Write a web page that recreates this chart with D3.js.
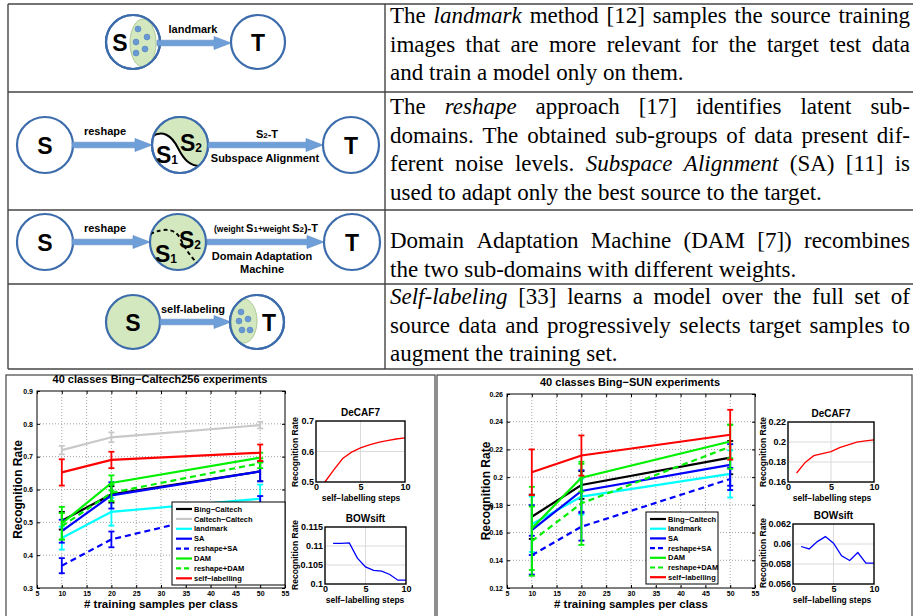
<!DOCTYPE html>
<html>
<head>
<meta charset="utf-8">
<script src="https://cdn.jsdelivr.net/npm/d3@7"></script>
<style>
body{margin:0;background:#fff;}
text{font-family:"Liberation Sans",Arial,sans-serif;}
</style>
</head>
<body>
<svg id="fig" width="913" height="616"></svg>
<script>
// ---------- data ----------
var samplesPerClass = [10, 20, 50];
var steps = [1, 2, 3, 4, 5, 6, 7, 8, 9, 10];
var xTicksMain = [5, 10, 15, 20, 25, 30, 35, 40, 45, 50, 55];

var caltechNames = ['Bing\u2212Caltech', 'Caltech\u2212Caltech', 'landmark', 'SA', 'reshape+SA', 'DAM', 'reshape+DAM', 'self\u2212labelling'];
var caltechMean = [
  [0.505, 0.585, 0.655],
  [0.720, 0.759, 0.796],
  [0.452, 0.532, 0.572],
  [0.473, 0.582, 0.655],
  [0.368, 0.448, 0.555],
  [0.497, 0.620, 0.697],
  [0.488, 0.590, 0.680],
  [0.652, 0.690, 0.712]
];
var caltechErr = [
  [0.027, 0.025, 0.030],
  [0.013, 0.015, 0.010],
  [0.035, 0.042, 0.043],
  [0.035, 0.040, 0.030],
  [0.023, 0.024, 0.025],
  [0.050, 0.023, 0.015],
  [0.040, 0.025, 0.015],
  [0.040, 0.025, 0.025]
];
var caltechYTicks = [0.3, 0.4, 0.5, 0.6, 0.7, 0.8, 0.9];

var sunNames = ['Bing\u2212Caltech', 'landmark', 'SA', 'reshape+SA', 'DAM', 'reshape+DAM', 'self\u2212labelling'];
var sunMean = [
  [0.1714, 0.1943, 0.2141],
  [0.1660, 0.1860, 0.2023],
  [0.1618, 0.1900, 0.2088],
  [0.1437, 0.1642, 0.1987],
  [0.1630, 0.1996, 0.2257],
  [0.1538, 0.1811, 0.2220],
  [0.2035, 0.2156, 0.2306]
];
var sunErr = [
  [0.016, 0.010, 0.012],
  [0.020, 0.013, 0.017],
  [0.018, 0.015, 0.015],
  [0.014, 0.010, 0.008],
  [0.030, 0.010, 0.012],
  [0.025, 0.030, 0.016],
  [0.0165, 0.0145, 0.018]
];
var sunYTicks = [0.12, 0.14, 0.16, 0.18, 0.2, 0.22, 0.24, 0.26];

var caltechDecaf = [0.500, 0.540, 0.577, 0.598, 0.612, 0.622, 0.630, 0.636, 0.641, 0.645];
var caltechBow = [0.1107, 0.1107, 0.1108, 0.1068, 0.1045, 0.1036, 0.1034, 0.1025, 0.1010, 0.1010];
var sunDecaf = [0.1690, 0.1796, 0.1863, 0.1883, 0.1903, 0.1944, 0.1971, 0.1998, 0.2011, 0.2021];
var sunBow = [0.05975, 0.05951, 0.06024, 0.06074, 0.06008, 0.05882, 0.05835, 0.05915, 0.05809, 0.05809];

var seriesColor = {
  'Bing\u2212Caltech': '#000000', 'Caltech\u2212Caltech': '#c8c8c8', 'landmark': '#00ffff',
  'SA': '#0000ff', 'reshape+SA': '#0000ff', 'DAM': '#00f000', 'reshape+DAM': '#00f000', 'self\u2212labelling': '#ff0000'
};
var seriesDashed = {'reshape+SA': true, 'reshape+DAM': true};

var paragraphs = [
  {y: 23, lines: ['The *landmark* method [12] samples the source training', 'images that are more relevant for the target test data', 'and train a model only on them.']},
  {y: 114, lines: ['The *reshape* approach [17] identifies latent sub-', 'domains. The obtained sub-groups of data present dif-', 'ferent noise levels. *Subspace* *Alignment* (SA) [11] is', 'used to adapt only the best source to the target.']},
  {y: 248, lines: ['Domain Adaptation Machine (DAM [7]) recombines', 'the two sub-domains with different weights.']},
  {y: 304, lines: ['*Self-labeling* [33] learns a model over the full set of', 'source data and progressively selects target samples to', 'augment the training set.']}
];

var svg = d3.select('#fig');

// ---------- table ----------
var tb = {top: 4, left: 8, mid: 385, right: 913, rows: [92, 210, 284, 369]};
var tg = svg.append('g').attr('stroke', '#444').attr('stroke-width', 1.4);
tg.append('line').attr('x1', tb.left).attr('x2', tb.right).attr('y1', tb.top).attr('y2', tb.top);
tb.rows.forEach(function(r){
  tg.append('line').attr('x1', tb.left).attr('x2', tb.right).attr('y1', r).attr('y2', r);
});
tg.append('line').attr('x1', tb.left).attr('x2', tb.left).attr('y1', tb.top).attr('y2', tb.rows[3]);
tg.append('line').attr('x1', tb.mid).attr('x2', tb.mid).attr('y1', tb.top).attr('y2', tb.rows[3]);

var textLeft = 390, textRight = 910, lineH = 28.6;
paragraphs.forEach(function(p){
  p.lines.forEach(function(line, li){
    var words = line.split(' ').map(function(w){
      var it = w.charAt(0) == '*';
      return {t: it ? w.slice(1, -1) : w, it: it};
    });
    var g = svg.append('g');
    words.forEach(function(w){
      w.el = g.append('text').attr('y', p.y + li * lineH)
        .style('font-family', '"Liberation Serif","Times New Roman",serif').style('font-size', '23px')
        .style('font-style', w.it ? 'italic' : 'normal').text(w.t);
      w.w = w.el.node().getComputedTextLength();
    });
    var total = d3.sum(words, function(d){ return d.w; });
    var last = li == p.lines.length - 1;
    var gap = last ? 5.8 : (textRight - textLeft - total) / (words.length - 1);
    var x = textLeft;
    words.forEach(function(w){ w.el.attr('x', x); x += w.w + gap; });
  });
});

// ---------- diagrams ----------
var ringColor = '#3c6cab', arrowColor = '#6f9fd8', greenFill = '#d3e8bf', dotColor = '#6a98d2';
var dg = svg.append('g');

function ring(cx, cy, r, fill){
  return dg.append('circle').attr('cx', cx).attr('cy', cy).attr('r', r)
    .attr('fill', fill || '#fff').attr('stroke', ringColor).attr('stroke-width', 2.2);
}
function arrow(x1, x2, y){
  var hl = 17, hh = 6.5;
  dg.append('path')
    .attr('d', 'M' + x1 + ',' + (y - 2.8) + 'L' + (x2 - hl) + ',' + (y - 2.8) + 'L' + (x2 - hl) + ',' + (y - hh) +
      'L' + x2 + ',' + y + 'L' + (x2 - hl) + ',' + (y + hh) + 'L' + (x2 - hl) + ',' + (y + 2.8) + 'L' + x1 + ',' + (y + 2.8) + 'Z')
    .attr('fill', arrowColor).attr('stroke', '#5c8ac4').attr('stroke-width', 0.6);
}
function label(x, y, t, size, anchor){
  return dg.append('text').attr('x', x).attr('y', y).attr('text-anchor', anchor || 'middle')
    .style('font-weight', 'bold').style('font-size', (size || 11) + 'px').text(t);
}
function bigLetter(x, y, t, sub){
  var tx = dg.append('text').attr('x', x).attr('y', y).attr('text-anchor', 'middle').attr('dy', '0.36em')
    .style('font-weight', 'bold').style('font-size', '23px').text(t);
  if(sub) tx.append('tspan').style('font-size', '12px').attr('dy', '0.1em').text(sub);
  return tx;
}
function dots(pts){
  pts.forEach(function(p){
    dg.append('circle').attr('cx', p[0]).attr('cy', p[1]).attr('r', 3)
      .attr('fill', dotColor).attr('stroke', '#4d7fbf').attr('stroke-width', 0.5);
  });
}
function clipCircle(id, cx, cy, r){
  svg.append('clipPath').attr('id', id).append('circle').attr('cx', cx).attr('cy', cy).attr('r', r);
}

// row 1: landmark
ring(133, 42, 27);
clipCircle('c1', 133, 42, 27);
dg.append('ellipse').attr('cx', 143).attr('cy', 43).attr('rx', 13).attr('ry', 24)
  .attr('fill', greenFill).attr('stroke', '#9fbf86').attr('stroke-width', 0.8).attr('clip-path', 'url(#c1)');
ring(133, 42, 27).attr('fill', 'none');
dots([[138, 29], [147, 37], [136, 42], [145, 49], [136, 53]]);
bigLetter(120, 43, 'S');
arrow(157, 231, 43);
label(193, 33, 'landmark');
ring(258, 42, 27);
bigLetter(258, 43, 'T');

// row 2: reshape + SA
ring(45, 145, 28);
bigLetter(45, 146, 'S');
arrow(72, 152, 145);
label(105, 135, 'reshape');
ring(180, 145, 28);
clipCircle('c2', 180, 145, 28);
dg.append('path').attr('d', 'M150,138 C162,128 172,136 178,148 C184,160 190,166 200,166 L215,166 L215,110 L145,110 Z')
  .attr('fill', greenFill).attr('clip-path', 'url(#c2)');
dg.append('path').attr('d', 'M150,138 C162,128 172,136 178,148 C184,160 190,166 200,166')
  .attr('fill', 'none').attr('stroke', '#000').attr('stroke-width', 2).attr('clip-path', 'url(#c2)');
ring(180, 145, 28).attr('fill', 'none');
bigLetter(167, 155, 'S', '1');
bigLetter(191, 143, 'S', '2');
arrow(208, 323, 145);
var l2 = label(267, 138, 'S', 11);
l2.append('tspan').style('font-size', '8px').text('2');
l2.append('tspan').text('-T');
label(265, 162, 'Subspace Alignment');
ring(351, 145, 28);
bigLetter(351, 146, 'T');

// row 3: reshape + DAM
ring(45, 242, 28);
bigLetter(45, 243, 'S');
arrow(72, 150, 242);
label(105, 232, 'reshape');
ring(178, 242, 28, greenFill);
clipCircle('c3', 178, 242, 28);
dg.append('path').attr('d', 'M150,234 Q172,224 180,238 Q187,253 198,264')
  .attr('fill', 'none').attr('stroke', '#000').attr('stroke-width', 2).attr('stroke-dasharray', '4,3')
  .attr('clip-path', 'url(#c3)');
bigLetter(166, 254, 'S', '1');
bigLetter(190, 240, 'S', '2');
arrow(207, 324, 242);
var l3 = label(266, 232, '(weight ', 8.5);
l3.append('tspan').style('font-size', '11px').text('S');
l3.append('tspan').style('font-size', '8px').text('1');
l3.append('tspan').text('+weight ');
l3.append('tspan').style('font-size', '11px').text('S');
l3.append('tspan').style('font-size', '8px').text('2');
l3.append('tspan').style('font-size', '11px').text(')-T');
label(262, 260, 'Domain Adaptation');
label(262, 273, 'Machine');
ring(352, 242, 28);
bigLetter(352, 243, 'T');

// row 4: self-labeling
ring(133, 322, 27, greenFill);
bigLetter(133, 323, 'S');
arrow(160, 231, 322);
label(193, 313, 'self-labeling');
ring(257, 322, 27);
clipCircle('c4', 257, 322, 27);
dg.append('ellipse').attr('cx', 244).attr('cy', 321).attr('rx', 13).attr('ry', 22)
  .attr('fill', greenFill).attr('stroke', '#9fbf86').attr('stroke-width', 0.8).attr('clip-path', 'url(#c4)');
ring(257, 322, 27).attr('fill', 'none');
dots([[241, 312], [248, 319], [239, 321], [242, 330], [250, 330]]);
bigLetter(269, 323, 'T');

// ---------- bottom panels ----------
svg.append('rect').attr('x', 6).attr('y', 375).attr('width', 429).attr('height', 250)
  .attr('fill', 'none').attr('stroke', '#444').attr('stroke-width', 1.2);
svg.append('rect').attr('x', 437).attr('y', 375).attr('width', 475).attr('height', 250)
  .attr('fill', 'none').attr('stroke', '#444').attr('stroke-width', 1.2);

function mainChart(cfg){
  var x = d3.scaleLinear().domain([5, 55]).range([cfg.left, cfg.right]);
  var y = d3.scaleLinear().domain(d3.extent(cfg.yTicks)).range([cfg.bottom, cfg.top]);
  var g = svg.append('g');

  // dotted grid
  g.selectAll('.gx').data(xTicksMain.slice(1, -1)).enter().append('line')
    .attr('x1', x).attr('x2', x).attr('y1', cfg.top).attr('y2', cfg.bottom)
    .attr('stroke', '#8a8a8a').attr('stroke-width', 0.8).attr('stroke-dasharray', '1,2');
  g.selectAll('.gy').data(cfg.yTicks.slice(1, -1)).enter().append('line')
    .attr('y1', y).attr('y2', y).attr('x1', cfg.left).attr('x2', cfg.right)
    .attr('stroke', '#8a8a8a').attr('stroke-width', 0.8).attr('stroke-dasharray', '1,2');

  // axes
  var ax = g.append('g').attr('transform', 'translate(0,' + cfg.bottom + ')')
    .call(d3.axisBottom(x).tickValues(xTicksMain).tickSize(-3).tickPadding(3).tickFormat(d3.format('d')));
  var ay = g.append('g').attr('transform', 'translate(' + cfg.left + ',0)')
    .call(d3.axisLeft(y).tickValues(cfg.yTicks).tickSize(-3).tickPadding(4).tickFormat(function(d){ return String(+d.toFixed(3)); }));
  var axt = g.append('g').attr('transform', 'translate(0,' + cfg.top + ')')
    .call(d3.axisTop(x).tickValues(xTicksMain).tickSize(-3).tickFormat(''));
  var ayr = g.append('g').attr('transform', 'translate(' + cfg.right + ',0)')
    .call(d3.axisRight(y).tickValues(cfg.yTicks).tickSize(-3).tickFormat(''));
  [ax, ay, axt, ayr].forEach(function(a){
    a.select('.domain').remove();
    a.selectAll('line').attr('stroke', '#000');
    a.selectAll('text').style('font-family', '"Liberation Sans",Arial,sans-serif').style('font-size', '7px').style('font-weight', 'bold').attr('fill', '#000');
  });

  // series
  cfg.names.forEach(function(name, i){
    var pts = samplesPerClass.map(function(s, j){ return {x: s, m: cfg.mean[i][j], e: cfg.err[i][j]}; });
    var col = seriesColor[name];
    var sg = g.append('g').attr('stroke', col).attr('fill', 'none');
    sg.append('path').datum(pts)
      .attr('d', d3.line().x(function(d){ return x(d.x); }).y(function(d){ return y(d.m); }))
      .attr('stroke-width', 2.2).attr('stroke-dasharray', seriesDashed[name] ? '6,4' : null);
    pts.forEach(function(d){
      var xx = x(d.x), y1 = y(d.m - d.e), y2 = y(d.m + d.e);
      sg.append('line').attr('x1', xx).attr('x2', xx).attr('y1', y1).attr('y2', y2).attr('stroke-width', 1.8);
      sg.append('line').attr('x1', xx - 3).attr('x2', xx + 3).attr('y1', y1).attr('y2', y1).attr('stroke-width', 1.8);
      sg.append('line').attr('x1', xx - 3).attr('x2', xx + 3).attr('y1', y2).attr('y2', y2).attr('stroke-width', 1.8);
    });
  });

  // box
  g.append('rect').attr('x', cfg.left).attr('y', cfg.top).attr('width', cfg.right - cfg.left).attr('height', cfg.bottom - cfg.top)
    .attr('fill', 'none').attr('stroke', '#000').attr('stroke-width', 1);

  // legend
  var lg = cfg.legend;
  g.append('rect').attr('x', lg.x).attr('y', lg.y).attr('width', lg.w).attr('height', lg.h)
    .attr('fill', '#fff').attr('stroke', '#000').attr('stroke-width', 1);
  cfg.names.forEach(function(name, i){
    var yy = lg.y + 7 + i * lg.step;
    g.append('line').attr('x1', lg.x + 4).attr('x2', lg.x + 20).attr('y1', yy).attr('y2', yy)
      .attr('stroke', seriesColor[name]).attr('stroke-width', 2.2).attr('stroke-dasharray', seriesDashed[name] ? '5,3' : null);
    g.append('text').attr('x', lg.x + 22).attr('y', yy).attr('dy', '0.35em')
      .style('font-size', '7.5px').style('font-weight', 'bold').text(name);
  });

  // texts
  g.append('text').attr('x', cfg.titleX).attr('y', cfg.top - 8).attr('text-anchor', 'middle')
    .style('font-size', '11px').style('font-weight', 'bold').text(cfg.title);
  g.append('text').attr('x', (cfg.left + cfg.right) / 2).attr('y', 608).attr('text-anchor', 'middle')
    .style('font-size', '11.5px').style('font-weight', 'bold').text('# training samples per class');
  g.append('text').attr('transform', 'translate(' + cfg.ylabelX + ',' + (cfg.top + cfg.bottom) / 2 + ') rotate(-90)')
    .attr('text-anchor', 'middle').style('font-size', '12px').style('font-weight', 'bold').text('Recognition Rate');
}

function smallChart(cfg){
  var x = d3.scaleLinear().domain([0, 10]).range([cfg.left, cfg.right]);
  var y = d3.scaleLinear().domain(d3.extent(cfg.yTicks)).range([cfg.bottom, cfg.top]);
  var g = svg.append('g');
  g.append('line').attr('x1', x(5)).attr('x2', x(5)).attr('y1', cfg.top).attr('y2', cfg.bottom)
    .attr('stroke', '#dadada').attr('stroke-width', 1);
  g.selectAll('.gy').data(cfg.yTicks.slice(1, -1)).enter().append('line')
    .attr('y1', y).attr('y2', y).attr('x1', cfg.left).attr('x2', cfg.right)
    .attr('stroke', '#dadada').attr('stroke-width', 1);
  g.append('path').datum(cfg.values)
    .attr('d', d3.line().x(function(d, i){ return x(steps[i]); }).y(function(d){ return y(d); }))
    .attr('fill', 'none').attr('stroke', cfg.color).attr('stroke-width', 1.3);
  g.append('rect').attr('x', cfg.left).attr('y', cfg.top).attr('width', cfg.right - cfg.left).attr('height', cfg.bottom - cfg.top)
    .attr('fill', 'none').attr('stroke', '#000').attr('stroke-width', 1.4);

  var ax = g.append('g').attr('transform', 'translate(0,' + cfg.bottom + ')')
    .call(d3.axisBottom(x).tickValues([0, 5, 10]).tickSize(0).tickPadding(2).tickFormat(d3.format('d')));
  var ay = g.append('g').attr('transform', 'translate(' + cfg.left + ',0)')
    .call(d3.axisLeft(y).tickValues(cfg.yTicks).tickSize(0).tickPadding(2).tickFormat(function(d){ return String(+d.toFixed(4)); }));
  [ax, ay].forEach(function(a){
    a.select('.domain').remove();
    a.selectAll('text').style('font-family', '"Liberation Sans",Arial,sans-serif').style('font-size', '9px').style('font-weight', 'bold').attr('fill', '#000');
  });
  g.append('text').attr('x', (cfg.left + cfg.right) / 2).attr('y', cfg.top - 5).attr('text-anchor', 'middle')
    .style('font-size', '10px').style('font-weight', 'bold').text(cfg.title);
  g.append('text').attr('x', cfg.xlabelX).attr('y', cfg.bottom + 19).attr('text-anchor', 'middle')
    .style('font-size', '8.5px').style('font-weight', 'bold').text('self\u2212labelling steps');
  g.append('text').attr('transform', 'translate(' + cfg.ylabelX + ',' + cfg.ylabelY + ') rotate(-90)')
    .attr('text-anchor', 'middle').attr('dy', '0.35em').style('font-size', '8.5px').style('font-weight', 'bold').text('Recognition Rate');
}

mainChart({left: 37, right: 285, top: 391, bottom: 588, yTicks: caltechYTicks,
  names: caltechNames, mean: caltechMean, err: caltechErr,
  title: '40 classes Bing\u2212Caltech256 experiments', titleX: 160, ylabelX: 22,
  legend: {x: 172, y: 502, w: 113, h: 83, step: 9.9}});

mainChart({left: 507, right: 755, top: 394, bottom: 588, yTicks: sunYTicks,
  names: sunNames, mean: sunMean, err: sunErr,
  title: '40 classes Bing\u2212SUN experiments', titleX: 630, ylabelX: 490,
  legend: {x: 646, y: 512, w: 72, h: 72, step: 9.7}});

smallChart({left: 316, right: 405, top: 421, bottom: 482, yTicks: [0.5, 0.6, 0.7], values: caltechDecaf,
  color: '#ff0000', title: 'DeCAF7', xlabelX: 361, ylabelX: 295, ylabelY: 452});
smallChart({left: 325, right: 406, top: 527, bottom: 584, yTicks: [0.1, 0.105, 0.11, 0.115], values: caltechBow,
  color: '#0000ff', title: 'BOWsift', xlabelX: 365, ylabelX: 295, ylabelY: 555});
smallChart({left: 788, right: 874, top: 422, bottom: 482, yTicks: [0.16, 0.18, 0.2, 0.22], values: sunDecaf,
  color: '#ff0000', title: 'DeCAF7', xlabelX: 832, ylabelX: 763, ylabelY: 452});
smallChart({left: 793, right: 874, top: 524, bottom: 584, yTicks: [0.056, 0.058, 0.06, 0.062], values: sunBow,
  color: '#0000ff', title: 'BOWsift', xlabelX: 832, ylabelX: 763, ylabelY: 553});
</script>
</body>
</html>
